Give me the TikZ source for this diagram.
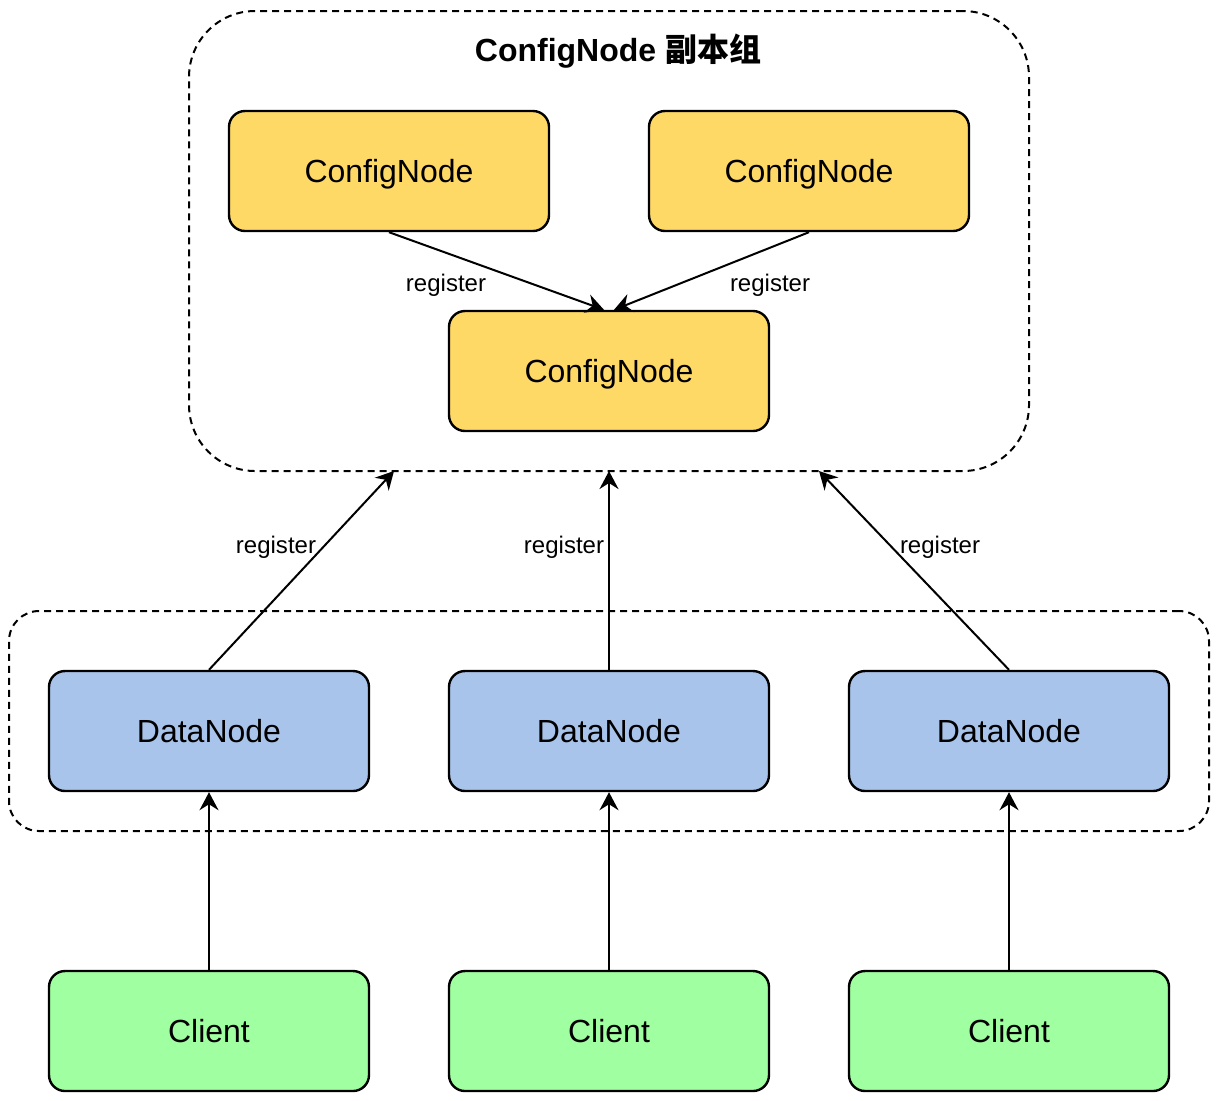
\documentclass[tikz,border=0pt]{standalone}
\usepackage{fontspec}
\setmainfont{Liberation Sans}
\newfontfamily\cjk{Noto Sans CJK SC}
\usetikzlibrary{arrows.meta}

\definecolor{cfgyellow}{HTML}{FFD966}
\definecolor{dnblue}{HTML}{A9C4EB}
\definecolor{clgreen}{HTML}{A0FFA0}

\begin{document}
\begin{tikzpicture}[x=0.5pt, y=-0.5pt,
    box/.style={draw, line width=1.2pt, rounded corners=8pt, minimum width=160pt,
      minimum height=60pt, text depth=0pt, font=\fontsize{16}{19}\selectfont},
    group/.style={draw, line width=1pt, dash pattern=on 3.5pt off 2.5pt},
    reg/.style={text depth=0pt, font=\fontsize{12}{14}\selectfont},
    arr/.style={-{Stealth[length=9pt,width=9.5pt,inset=3pt]}, line width=1pt}]
  \useasboundingbox (0,0) rectangle (1218,1100);

  % replica group of config nodes
  \node[group, rounded corners=33pt, minimum width=420pt, minimum height=230pt] (cgroup) at (609,241) {};
  \node[font=\fontsize{16}{19}\selectfont\bfseries] (title) at (618,51) {ConfigNode {\cjk 副本组}};
  \node[box, fill=cfgyellow] (cn1) at (389,171) {ConfigNode};
  \node[box, fill=cfgyellow] (cn2) at (809,171) {ConfigNode};
  \node[box, fill=cfgyellow] (cn3) at (609,371) {ConfigNode};
  \draw[arr] (cn1.south) -- ([xshift=-2.5pt]cn3.north);
  \draw[arr] (cn2.south) -- ([xshift=2.5pt]cn3.north);
  \node[reg] at (446,283) {register};
  \node[reg] at (770,283) {register};

  % data nodes
  \node[group, rounded corners=15pt, minimum width=600pt, minimum height=110pt] (dgroup) at (609,721) {};
  \node[box, fill=dnblue] (dn1) at (209,731) {DataNode};
  \node[box, fill=dnblue] (dn2) at (609,731) {DataNode};
  \node[box, fill=dnblue] (dn3) at (1009,731) {DataNode};
  \coordinate (in1) at (394,471);
  \coordinate (in2) at (609,471);
  \coordinate (in3) at (819,471);
  \draw[arr] (dn1.north) -- (in1);
  \draw[arr] (dn2.north) -- (in2);
  \draw[arr] (dn3.north) -- (in3);
  \node[reg] at (276,545) {register};
  \node[reg] at (564,545) {register};
  \node[reg] at (940,545) {register};

  % clients
  \foreach \i/\x in {1/209, 2/609, 3/1009} {
    \node[box, fill=clgreen] (cl\i) at (\x,1031) {Client};
    \draw[arr] (cl\i.north) -- (dn\i.south);
  }
\end{tikzpicture}
\end{document}
